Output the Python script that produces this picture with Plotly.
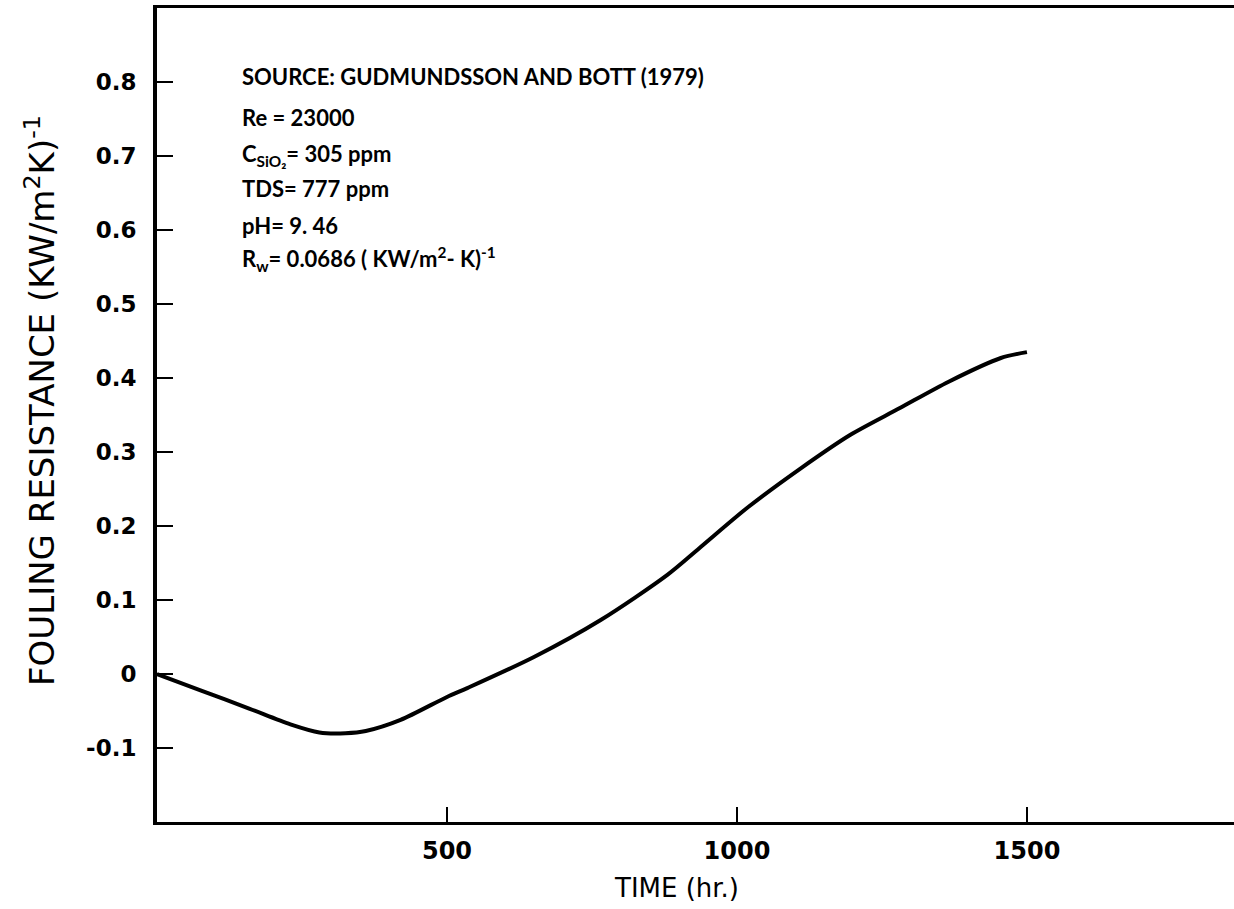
import plotly.graph_objects as go

# ---- data ----
time_hr = [0, 75, 160, 230, 280, 325, 360, 420, 500, 535, 650, 765, 880, 935,
           1020, 1110, 1195, 1280, 1365, 1455, 1500]
fouling = [0.0, -0.022, -0.047, -0.068, -0.079, -0.080, -0.077, -0.062, -0.031,
           -0.019, 0.023, 0.073, 0.134, 0.170, 0.226, 0.278, 0.323, 0.359, 0.395,
           0.427, 0.435]

x_tick_vals = [500, 1000, 1500]
x_tick_text = ["500", "1000", "1500"]
y_tick_vals = [-0.1, 0, 0.1, 0.2, 0.3, 0.4, 0.5, 0.6, 0.7, 0.8]
y_tick_text = ["-0.1", "0", "0.1", "0.2", "0.3", "0.4", "0.5", "0.6", "0.7", "0.8"]

info_lines = [
    "SOURCE: GUDMUNDSSON AND BOTT (1979)",
    "Re = 23000",
    "C<sub>SiO₂</sub>= 305 ppm",
    "TDS= 777 ppm",
    "pH= 9. 46",
    "R<sub>w</sub>= 0.0686 ( KW/m<sup>2</sup>- K)<sup>-1</sup>",
]
info_y_px = [76, 117, 155, 189, 225, 259]

W, H = 1234, 909
ML, MR, MT, MB = 157, 0, 8, 87
PW, PH = W - ML - MR, H - MT - MB

ANN_FONT = "Lato"
AX_FONT = "DejaVu Sans"

fig = go.Figure()
fig.add_trace(go.Scatter(
    x=time_hr, y=fouling, mode="lines",
    line=dict(color="black", width=4, shape="spline", smoothing=0.8),
    showlegend=False, hoverinfo="skip"))

def py2paper(py):
    return (H - MB - py) / PH

def px2paper(px):
    return (px - ML) / PW

annotations = []
for txt, ypx in zip(info_lines, info_y_px):
    annotations.append(dict(
        text=txt, xref="paper", yref="paper", x=px2paper(240), y=py2paper(ypx),
        xanchor="left", yanchor="middle", showarrow=False,
        font=dict(family=ANN_FONT, size=22, color="black", weight="bold")))

annotations.append(dict(
    text="FOULING RESISTANCE (KW/m<sup>2</sup>K)<sup>-1</sup>",
    xref="paper", yref="paper", x=px2paper(40), y=py2paper(401),
    xanchor="center", yanchor="middle", textangle=-90, showarrow=False,
    font=dict(family=AX_FONT, size=34, color="black")))
annotations.append(dict(
    text="TIME (hr.)", xref="paper", yref="paper",
    x=px2paper(676), y=py2paper(888), xanchor="center", yanchor="middle",
    showarrow=False, font=dict(family=AX_FONT, size=26, color="black")))

fig.update_layout(
    width=W, height=H,
    margin=dict(l=ML, r=MR, t=MT, b=MB),
    paper_bgcolor="white", plot_bgcolor="white",
    annotations=annotations,
    xaxis=dict(
        range=[0, 1857], showgrid=False, zeroline=False,
        showline=True, linecolor="black", linewidth=3, mirror=True,
        ticks="inside", ticklen=15, tickwidth=2, tickcolor="black",
        tickvals=x_tick_vals, ticktext=x_tick_text,
        ticklabelstandoff=5,
        tickfont=dict(family=AX_FONT, size=24, color="black", weight="bold")),
    yaxis=dict(
        range=[-0.2, 0.9], showgrid=False, zeroline=False,
        showline=True, linecolor="black", linewidth=4,
        ticks="inside", ticklen=16, tickwidth=2, tickcolor="black",
        tickvals=y_tick_vals, ticktext=y_tick_text,
        ticklabelstandoff=12,
        tickfont=dict(family=AX_FONT, size=23, color="black", weight="bold")),
)

fig.write_html("out.html")
